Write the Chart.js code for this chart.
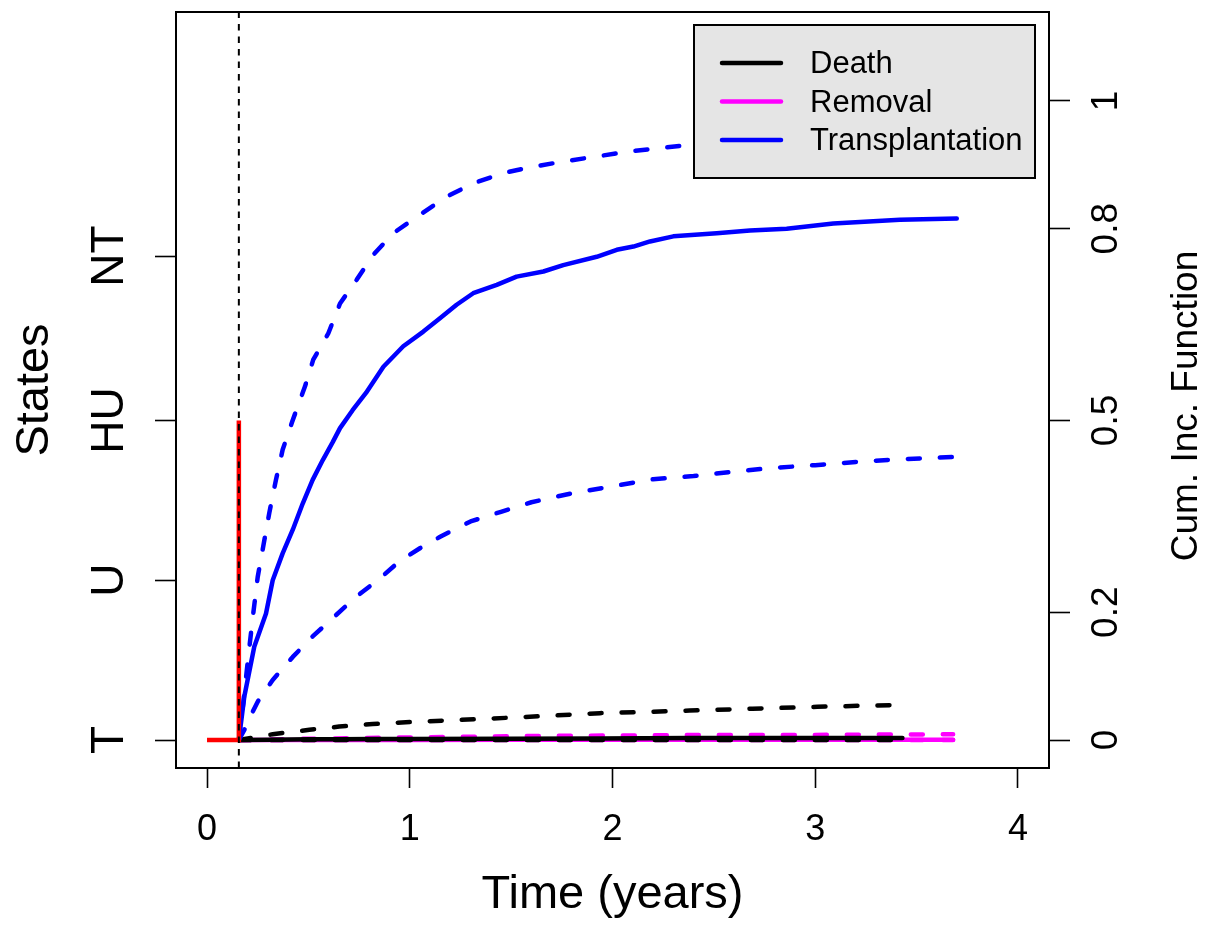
<!DOCTYPE html>
<html>
<head>
<meta charset="utf-8">
<title>Landmark state path and cumulative incidence</title>
<script src="https://cdn.jsdelivr.net/npm/chart.js@4.4.0/dist/chart.umd.min.js"></script>
<style>
  html, body { margin: 0; padding: 0; background: #ffffff; }
  #wrap { width: 1209px; height: 928px; }
</style>
</head>
<body>
<div id="wrap"><canvas id="chart" width="1209" height="928"></canvas></div>
<script>
// ---- axis ticks and labels ----
const xTickValues = [0, 1, 2, 3, 4];
const xTickLabels = ['0', '1', '2', '3', '4'];
const stateTickValues = [0, 0.25, 0.5, 0.757];
const stateTickLabels = ['T', 'U', 'HU', 'NT'];
const cifTickValues = [0, 0.2, 0.5, 0.8, 1];
const cifTickLabels = ['0', '0.2', '0.5', '0.8', '1'];
const xRange = [-0.153, 4.153];
const yRange = [-0.0438, 1.139];

// ---- legend / series names ----
const seriesNames = ['Death', 'Removal', 'Transplantation'];

// ---- landmark time and the observed state path (T -> HU) ----
const landmarkTime = 0.157;
const pathTime = [0, 0.157, 0.157];
const pathState = [0, 0, 0.5];

// ---- Transplantation: cumulative incidence with confidence band ----
const txTime = [0.157, 0.184, 0.233, 0.291, 0.324, 0.373, 0.423, 0.472, 0.521, 0.571, 0.620, 0.656, 0.718, 0.784, 0.870, 0.968, 1.067, 1.149, 1.231, 1.313, 1.429, 1.527, 1.659, 1.757, 1.922, 2.021, 2.103, 2.185, 2.300, 2.514, 2.678, 2.859, 3.089, 3.418, 3.698];
const txCif = [0, 0.068, 0.146, 0.198, 0.250, 0.292, 0.329, 0.370, 0.407, 0.438, 0.466, 0.488, 0.516, 0.543, 0.584, 0.616, 0.639, 0.660, 0.681, 0.699, 0.712, 0.725, 0.733, 0.743, 0.756, 0.767, 0.772, 0.780, 0.788, 0.793, 0.797, 0.800, 0.808, 0.814, 0.816];
const txUpTime = [0.157, 0.176, 0.200, 0.225, 0.250, 0.283, 0.307, 0.340, 0.373, 0.420, 0.483, 0.524, 0.598, 0.656, 0.738, 0.820, 0.919, 1.051, 1.182, 1.313, 1.461, 1.609, 1.757, 1.922, 2.086, 2.234, 2.382, 2.600, 2.900, 3.200, 3.450, 3.698];
const txUpper = [0, 0.050, 0.120, 0.190, 0.255, 0.313, 0.355, 0.407, 0.454, 0.498, 0.553, 0.595, 0.636, 0.683, 0.720, 0.759, 0.793, 0.822, 0.850, 0.871, 0.887, 0.897, 0.905, 0.913, 0.921, 0.926, 0.931, 0.936, 0.940, 0.943, 0.945, 0.946];
const txLoTime = [0.157, 0.200, 0.225, 0.250, 0.324, 0.423, 0.521, 0.628, 0.735, 0.850, 0.950, 1.050, 1.150, 1.300, 1.450, 1.600, 1.800, 2.000, 2.200, 2.400, 2.600, 2.800, 3.000, 3.200, 3.400, 3.698];
const txLower = [0, 0.025, 0.044, 0.060, 0.094, 0.130, 0.162, 0.193, 0.224, 0.252, 0.280, 0.300, 0.318, 0.342, 0.357, 0.372, 0.386, 0.397, 0.408, 0.413, 0.420, 0.426, 0.430, 0.435, 0.439, 0.443];

// ---- Death ----
const deathTime = [0.157, 0.324, 0.505, 0.652, 0.817, 1.000, 1.500, 1.938, 2.380, 2.690, 3.010, 3.430];
const deathCif = [0, 0.0005, 0.001, 0.001, 0.0015, 0.0015, 0.002, 0.0025, 0.003, 0.003, 0.003, 0.003];
const deathUpper = [0, 0.009, 0.016, 0.021, 0.025, 0.028, 0.035, 0.042, 0.046, 0.049, 0.052, 0.055];
const deathLower = [0, 0, 0, 0, 0, 0, 0, 0, 0, 0, 0, 0];

// ---- Removal ----
const remTime = [0.157, 0.500, 1.000, 1.500, 2.000, 2.500, 3.000, 3.680];
const remCif = [0, 0, 0, 0.0005, 0.0005, 0.0005, 0.0005, 0.0005];
const remUpper = [0, 0.002, 0.004, 0.006, 0.007, 0.008, 0.008, 0.009];
const remLower = [0, 0, 0, 0, 0, 0, 0, 0];

const FONT = "'Liberation Sans', Arial, Helvetica, sans-serif";
const COL = { death: '#000000', removal: '#ff00ff', tx: '#0000ff', path: '#ff0000' };

const pts = (t, v) => t.map((x, i) => ({ x: x, y: v[i] }));

// One cumulative-incidence curve (solid estimate or dashed band edge)
function curve(data, color, dashed, order) {
  return {
    data: data,
    borderColor: color,
    borderWidth: 4.5,
    borderDash: dashed ? [12, 20] : [],
    borderCapStyle: 'round',
    borderJoinStyle: 'round',
    pointRadius: 0,
    fill: false,
    tension: 0,
    order: order,
    yAxisID: 'y'
  };
}

// Lower `order` is painted later (on top)
const datasets = [
  {
    data: [{ x: landmarkTime, y: yRange[0] }, { x: landmarkTime, y: yRange[1] }],
    borderColor: '#000000', borderWidth: 2, borderDash: [6.5, 6], borderCapStyle: 'butt',
    pointRadius: 0, fill: false, order: 0, yAxisID: 'y'
  },
  {
    data: pts(pathTime, pathState),
    borderColor: COL.path, borderWidth: 4.5, borderCapStyle: 'butt', borderJoinStyle: 'miter',
    pointRadius: 0, fill: false, order: 1, yAxisID: 'y'
  },
  curve(pts(txTime, txCif), COL.tx, false, 2),
  curve(pts(txUpTime, txUpper), COL.tx, true, 3),
  curve(pts(txLoTime, txLower), COL.tx, true, 4),
  curve(pts(deathTime, deathCif), COL.death, false, 5),
  curve(pts(deathTime, deathUpper), COL.death, true, 6),
  curve(pts(deathTime, deathLower), COL.death, true, 7),
  curve(pts(remTime, remCif), COL.removal, false, 8),
  curve(pts(remTime, remUpper), COL.removal, true, 9),
  curve(pts(remTime, remLower), COL.removal, true, 10)
];

// Frame around the plotting region
const framePlugin = {
  id: 'frame',
  afterDatasetsDraw(chart) {
    const a = chart.chartArea, ctx = chart.ctx;
    ctx.save();
    ctx.strokeStyle = '#000000';
    ctx.lineWidth = 2;
    ctx.strokeRect(a.left, a.top, a.right - a.left, a.bottom - a.top);
    ctx.restore();
  }
};

// Boxed legend in the top-right corner of the plotting region
const legendBoxPlugin = {
  id: 'legendBox',
  afterDatasetsDraw(chart) {
    const a = chart.chartArea, ctx = chart.ctx;
    const w = 341, h = 153;
    const x0 = a.right - 14 - w, y0 = a.top + 13;
    ctx.save();
    ctx.fillStyle = '#e5e5e5';
    ctx.fillRect(x0, y0, w, h);
    ctx.strokeStyle = '#000000';
    ctx.lineWidth = 2;
    ctx.strokeRect(x0, y0, w, h);
    const colors = [COL.death, COL.removal, COL.tx];
    ctx.font = '31px ' + FONT;
    ctx.textBaseline = 'middle';
    ctx.textAlign = 'left';
    seriesNames.forEach((name, i) => {
      const y = y0 + 38 + i * 38.5;
      ctx.strokeStyle = colors[i];
      ctx.lineWidth = 4.5;
      ctx.lineCap = 'round';
      ctx.beginPath();
      ctx.moveTo(x0 + 28, y);
      ctx.lineTo(x0 + 87, y);
      ctx.stroke();
      ctx.fillStyle = '#000000';
      ctx.fillText(name, x0 + 116, y + 1.5);
    });
    ctx.restore();
  }
};

// Right-hand axis title, reading bottom to top
const rightTitlePlugin = {
  id: 'rightTitle',
  afterDraw(chart) {
    const a = chart.chartArea, ctx = chart.ctx;
    ctx.save();
    ctx.translate(a.right + 138, (a.top + a.bottom) / 2 + 16);
    ctx.rotate(-Math.PI / 2);
    ctx.font = '37px ' + FONT;
    ctx.fillStyle = '#000000';
    ctx.textAlign = 'center';
    ctx.textBaseline = 'middle';
    ctx.fillText('Cum. Inc. Function', 0, 0);
    ctx.restore();
  }
};

function fixedTicks(values) {
  return function (scale) { scale.ticks = values.map(v => ({ value: v })); };
}
function noPad(scale) {
  scale.paddingTop = 0; scale.paddingBottom = 0;
  scale.paddingLeft = 0; scale.paddingRight = 0;
}

const tickGrid = (len) => ({
  drawOnChartArea: false, drawTicks: true, tickLength: len,
  tickWidth: 1.6, tickColor: '#000000'
});

new Chart(document.getElementById('chart'), {
  type: 'line',
  data: { datasets: datasets },
  plugins: [framePlugin, legendBoxPlugin, rightTitlePlugin],
  options: {
    responsive: false,
    animation: false,
    events: [],
    devicePixelRatio: 1,
    layout: { padding: { top: 12, left: 0, right: 0, bottom: 0 } },
    plugins: { legend: { display: false }, tooltip: { enabled: false } },
    scales: {
      x: {
        type: 'linear', position: 'bottom',
        min: xRange[0], max: xRange[1],
        afterBuildTicks: fixedTicks(xTickValues),
        afterFit(scale) { scale.height = 160; noPad(scale); },
        ticks: {
          autoSkip: false, maxRotation: 0, padding: 20, color: '#000000',
          font: { family: FONT, size: 36 },
          callback: (v, i) => xTickLabels[i]
        },
        grid: tickGrid(20),
        border: { display: false },
        title: {
          display: true, text: 'Time (years)', color: '#000000',
          font: { family: FONT, size: 47 }, padding: { top: 0, bottom: 5 }
        }
      },
      yS: {
        type: 'linear', position: 'left', display: true,
        min: yRange[0], max: yRange[1],
        afterBuildTicks: fixedTicks(stateTickValues),
        afterFit(scale) { scale.width = 176; noPad(scale); },
        ticks: {
          autoSkip: false, minRotation: 90, maxRotation: 90, crossAlign: 'center',
          padding: 11, color: '#000000',
          font: { family: FONT, size: 46 },
          callback: (v, i) => stateTickLabels[i]
        },
        grid: tickGrid(21),
        border: { display: false },
        title: {
          display: true, text: 'States', color: '#000000',
          font: { family: FONT, size: 47 }, padding: { top: 7, bottom: 0 }
        }
      },
      y: {
        type: 'linear', position: 'right',
        min: yRange[0], max: yRange[1],
        afterBuildTicks: fixedTicks(cifTickValues),
        afterFit(scale) { scale.width = 160; noPad(scale); },
        ticks: {
          autoSkip: false, minRotation: 90, maxRotation: 90, crossAlign: 'center',
          padding: 11, color: '#000000',
          font: { family: FONT, size: 37 },
          callback: (v, i) => cifTickLabels[i]
        },
        grid: tickGrid(21),
        border: { display: false },
        title: { display: false }
      }
    }
  }
});
</script>
</body>
</html>
